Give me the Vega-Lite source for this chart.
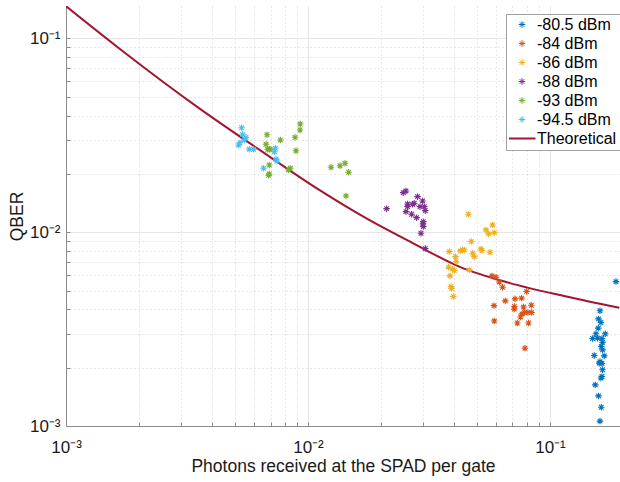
{
  "$schema": "https://vega.github.io/schema/vega-lite/v6.json",
  "autosize": "none",
  "width": 554,
  "height": 420,
  "padding": {"left": 66, "top": 6, "right": 0, "bottom": 56},
  "background": "white",
  "config": {
    "view": {"stroke": null},
    "font": "Liberation Sans"
  },
  "data": {
    "values": [
      {"x": 0.001, "y": 0.1467, "s": "Theoretical"},
      {"x": 0.00166, "y": 0.0888, "s": "Theoretical"},
      {"x": 0.003555, "y": 0.04357, "s": "Theoretical"},
      {"x": 0.00629, "y": 0.02666, "s": "Theoretical"},
      {"x": 0.01113, "y": 0.01652, "s": "Theoretical"},
      {"x": 0.01737, "y": 0.01181, "s": "Theoretical"},
      {"x": 0.02698, "y": 0.00881, "s": "Theoretical"},
      {"x": 0.04218, "y": 0.006648, "s": "Theoretical"},
      {"x": 0.0679, "y": 0.005478, "s": "Theoretical"},
      {"x": 0.1156, "y": 0.004668, "s": "Theoretical"},
      {"x": 0.1934, "y": 0.004071, "s": "Theoretical"},

      {"x": 0.005316, "y": 0.03461, "s": "-94.5 dBm"},
      {"x": 0.005368, "y": 0.0320, "s": "-94.5 dBm"},
      {"x": 0.005543, "y": 0.03088, "s": "-94.5 dBm"},
      {"x": 0.005455, "y": 0.0299, "s": "-94.5 dBm"},
      {"x": 0.005236, "y": 0.02896, "s": "-94.5 dBm"},
      {"x": 0.005167, "y": 0.02818, "s": "-94.5 dBm"},
      {"x": 0.00572, "y": 0.02678, "s": "-94.5 dBm"},
      {"x": 0.00596, "y": 0.02678, "s": "-94.5 dBm"},
      {"x": 0.00692, "y": 0.02678, "s": "-94.5 dBm"},
      {"x": 0.00733, "y": 0.0271, "s": "-94.5 dBm"},
      {"x": 0.00726, "y": 0.02603, "s": "-94.5 dBm"},
      {"x": 0.00738, "y": 0.02378, "s": "-94.5 dBm"},
      {"x": 0.00745, "y": 0.02331, "s": "-94.5 dBm"},
      {"x": 0.00655, "y": 0.02137, "s": "-94.5 dBm"},

      {"x": 0.00929, "y": 0.03615, "s": "-93 dBm"},
      {"x": 0.00927, "y": 0.03368, "s": "-93 dBm"},
      {"x": 0.00884, "y": 0.03088, "s": "-93 dBm"},
      {"x": 0.00769, "y": 0.0299, "s": "-93 dBm"},
      {"x": 0.00677, "y": 0.03185, "s": "-93 dBm"},
      {"x": 0.00671, "y": 0.02842, "s": "-93 dBm"},
      {"x": 0.00681, "y": 0.02678, "s": "-93 dBm"},
      {"x": 0.00697, "y": 0.02678, "s": "-93 dBm"},
      {"x": 0.00892, "y": 0.02634, "s": "-93 dBm"},
      {"x": 0.00692, "y": 0.02223, "s": "-93 dBm"},
      {"x": 0.00692, "y": 0.01998, "s": "-93 dBm"},
      {"x": 0.00687, "y": 0.01967, "s": "-93 dBm"},
      {"x": 0.00845, "y": 0.02137, "s": "-93 dBm"},
      {"x": 0.00831, "y": 0.02095, "s": "-93 dBm"},
      {"x": 0.01245, "y": 0.02163, "s": "-93 dBm"},
      {"x": 0.01356, "y": 0.02204, "s": "-93 dBm"},
      {"x": 0.01422, "y": 0.02268, "s": "-93 dBm"},
      {"x": 0.01472, "y": 0.02039, "s": "-93 dBm"},
      {"x": 0.01436, "y": 0.01539, "s": "-93 dBm"},

      {"x": 0.02113, "y": 0.01323, "s": "-88 dBm"},
      {"x": 0.02476, "y": 0.0160, "s": "-88 dBm"},
      {"x": 0.0254, "y": 0.01633, "s": "-88 dBm"},
      {"x": 0.02837, "y": 0.01526, "s": "-88 dBm"},
      {"x": 0.02976, "y": 0.0145, "s": "-88 dBm"},
      {"x": 0.0258, "y": 0.01399, "s": "-88 dBm"},
      {"x": 0.0258, "y": 0.01355, "s": "-88 dBm"},
      {"x": 0.0254, "y": 0.01277, "s": "-88 dBm"},
      {"x": 0.02705, "y": 0.01394, "s": "-88 dBm"},
      {"x": 0.0275, "y": 0.01411, "s": "-88 dBm"},
      {"x": 0.02903, "y": 0.01355, "s": "-88 dBm"},
      {"x": 0.03024, "y": 0.01355, "s": "-88 dBm"},
      {"x": 0.03052, "y": 0.01292, "s": "-88 dBm"},
      {"x": 0.0268, "y": 0.01238, "s": "-88 dBm"},
      {"x": 0.02811, "y": 0.01189, "s": "-88 dBm"},
      {"x": 0.02995, "y": 0.01134, "s": "-88 dBm"},
      {"x": 0.02986, "y": 0.01104, "s": "-88 dBm"},
      {"x": 0.02995, "y": 0.01069, "s": "-88 dBm"},
      {"x": 0.0293, "y": 0.00988, "s": "-88 dBm"},
      {"x": 0.03052, "y": 0.00823, "s": "-88 dBm"},

      {"x": 0.04597, "y": 0.01238, "s": "-86 dBm"},
      {"x": 0.05793, "y": 0.0109, "s": "-86 dBm"},
      {"x": 0.05439, "y": 0.01028, "s": "-86 dBm"},
      {"x": 0.05576, "y": 0.0098, "s": "-86 dBm"},
      {"x": 0.05887, "y": 0.00995, "s": "-86 dBm"},
      {"x": 0.0473, "y": 0.00895, "s": "-86 dBm"},
      {"x": 0.05651, "y": 0.00788, "s": "-86 dBm"},
      {"x": 0.05187, "y": 0.0082, "s": "-86 dBm"},
      {"x": 0.05236, "y": 0.00804, "s": "-86 dBm"},
      {"x": 0.04789, "y": 0.00779, "s": "-86 dBm"},
      {"x": 0.04867, "y": 0.00748, "s": "-86 dBm"},
      {"x": 0.04425, "y": 0.0081, "s": "-86 dBm"},
      {"x": 0.04353, "y": 0.0081, "s": "-86 dBm"},
      {"x": 0.04259, "y": 0.00801, "s": "-86 dBm"},
      {"x": 0.03836, "y": 0.00794, "s": "-86 dBm"},
      {"x": 0.04068, "y": 0.00748, "s": "-86 dBm"},
      {"x": 0.04095, "y": 0.00706, "s": "-86 dBm"},
      {"x": 0.03811, "y": 0.0066, "s": "-86 dBm"},
      {"x": 0.03959, "y": 0.00645, "s": "-86 dBm"},
      {"x": 0.04023, "y": 0.00634, "s": "-86 dBm"},
      {"x": 0.03862, "y": 0.00595, "s": "-86 dBm"},
      {"x": 0.0464, "y": 0.00639, "s": "-86 dBm"},
      {"x": 0.03899, "y": 0.00524, "s": "-86 dBm"},
      {"x": 0.03921, "y": 0.00512, "s": "-86 dBm"},
      {"x": 0.03985, "y": 0.00466, "s": "-86 dBm"},

      {"x": 0.0576, "y": 0.00595, "s": "-84 dBm"},
      {"x": 0.05984, "y": 0.00586, "s": "-84 dBm"},
      {"x": 0.06175, "y": 0.00553, "s": "-84 dBm"},
      {"x": 0.06371, "y": 0.0052, "s": "-84 dBm"},
      {"x": 0.08005, "y": 0.00494, "s": "-84 dBm"},
      {"x": 0.06537, "y": 0.00442, "s": "-84 dBm"},
      {"x": 0.0587, "y": 0.00418, "s": "-84 dBm"},
      {"x": 0.0717, "y": 0.00453, "s": "-84 dBm"},
      {"x": 0.0763, "y": 0.00457, "s": "-84 dBm"},
      {"x": 0.07122, "y": 0.00414, "s": "-84 dBm"},
      {"x": 0.07122, "y": 0.00401, "s": "-84 dBm"},
      {"x": 0.07777, "y": 0.00411, "s": "-84 dBm"},
      {"x": 0.08373, "y": 0.0042, "s": "-84 dBm"},
      {"x": 0.07659, "y": 0.00379, "s": "-84 dBm"},
      {"x": 0.07852, "y": 0.00385, "s": "-84 dBm"},
      {"x": 0.08111, "y": 0.00385, "s": "-84 dBm"},
      {"x": 0.08395, "y": 0.00385, "s": "-84 dBm"},
      {"x": 0.07557, "y": 0.00365, "s": "-84 dBm"},
      {"x": 0.05887, "y": 0.00348, "s": "-84 dBm"},
      {"x": 0.07329, "y": 0.0034, "s": "-84 dBm"},
      {"x": 0.08155, "y": 0.0034, "s": "-84 dBm"},
      {"x": 0.07883, "y": 0.00252, "s": "-84 dBm"},

      {"x": 0.1874, "y": 0.00556, "s": "-80.5 dBm"},
      {"x": 0.1609, "y": 0.00393, "s": "-80.5 dBm"},
      {"x": 0.1587, "y": 0.00357, "s": "-80.5 dBm"},
      {"x": 0.1624, "y": 0.00342, "s": "-80.5 dBm"},
      {"x": 0.1583, "y": 0.0032, "s": "-80.5 dBm"},
      {"x": 0.1692, "y": 0.00299, "s": "-80.5 dBm"},
      {"x": 0.1549, "y": 0.00299, "s": "-80.5 dBm"},
      {"x": 0.15, "y": 0.00283, "s": "-80.5 dBm"},
      {"x": 0.1573, "y": 0.00284, "s": "-80.5 dBm"},
      {"x": 0.164, "y": 0.00283, "s": "-80.5 dBm"},
      {"x": 0.1649, "y": 0.0027, "s": "-80.5 dBm"},
      {"x": 0.1629, "y": 0.00257, "s": "-80.5 dBm"},
      {"x": 0.1649, "y": 0.00247, "s": "-80.5 dBm"},
      {"x": 0.1524, "y": 0.00231, "s": "-80.5 dBm"},
      {"x": 0.1676, "y": 0.0023, "s": "-80.5 dBm"},
      {"x": 0.1609, "y": 0.00215, "s": "-80.5 dBm"},
      {"x": 0.1598, "y": 0.00211, "s": "-80.5 dBm"},
      {"x": 0.164, "y": 0.0021, "s": "-80.5 dBm"},
      {"x": 0.1649, "y": 0.00195, "s": "-80.5 dBm"},
      {"x": 0.164, "y": 0.0018, "s": "-80.5 dBm"},
      {"x": 0.1624, "y": 0.00177, "s": "-80.5 dBm"},
      {"x": 0.1539, "y": 0.00163, "s": "-80.5 dBm"},
      {"x": 0.1587, "y": 0.00143, "s": "-80.5 dBm"},
      {"x": 0.1629, "y": 0.00125, "s": "-80.5 dBm"},
      {"x": 0.1609, "y": 0.00106, "s": "-80.5 dBm"}
    ]
  },
  "encoding": {
    "x": {
      "field": "x", "type": "quantitative",
      "scale": {"type": "log", "domain": [0.001, 0.1947], "nice": false},
      "axis": {
        "title": "Photons received at the SPAD per gate",
        "values": [0.001,0.002,0.003,0.004,0.005,0.006,0.007,0.008,0.009,0.01,0.02,0.03,0.04,0.05,0.06,0.07,0.08,0.09,0.1],
        "labelExpr": "datum.value == 0.001 ? '10⁻³' : datum.value == 0.01 ? '10⁻²' : datum.value == 0.1 ? '10⁻¹' : ''",
        "grid": true,
        "gridColor": {"condition": {"test": "datum.value == 0.001 || datum.value == 0.01 || datum.value == 0.1", "value": "#e6e6e6"}, "value": "#d0d0d0"},
        "gridDash": {"condition": {"test": "datum.value == 0.001 || datum.value == 0.01 || datum.value == 0.1", "value": []}, "value": [1, 3]},
        "tickSize": -4,
        "tickColor": "#8c8c8c",
        "domainColor": "#8c8c8c",
        "labelPadding": 17,
        "labelFontSize": 17,
        "labelColor": "#1a1a1a",
        "labelFlush": false,
        "labelOverlap": false,
        "titleFontSize": 17.5,
        "titleFontWeight": "normal",
        "titleColor": "#1a1a1a",
        "titlePadding": 2
      }
    },
    "y": {
      "field": "y", "type": "quantitative",
      "scale": {"type": "log", "domain": [0.001, 0.147], "nice": false},
      "axis": {
        "title": "QBER",
        "values": [0.001,0.002,0.003,0.004,0.005,0.006,0.007,0.008,0.009,0.01,0.02,0.03,0.04,0.05,0.06,0.07,0.08,0.09,0.1],
        "labelExpr": "datum.value == 0.001 ? '10⁻³' : datum.value == 0.01 ? '10⁻²' : datum.value == 0.1 ? '10⁻¹' : ''",
        "grid": true,
        "gridColor": {"condition": {"test": "datum.value == 0.001 || datum.value == 0.01 || datum.value == 0.1", "value": "#e6e6e6"}, "value": "#d0d0d0"},
        "gridDash": {"condition": {"test": "datum.value == 0.001 || datum.value == 0.01 || datum.value == 0.1", "value": []}, "value": [1, 3]},
        "tickSize": -4,
        "tickColor": "#8c8c8c",
        "domainColor": "#8c8c8c",
        "labelPadding": 10,
        "labelFontSize": 17,
        "labelColor": "#1a1a1a",
        "labelFlush": false,
        "labelOverlap": false,
        "titleFontSize": 17.5,
        "titleFontWeight": "normal",
        "titleColor": "#1a1a1a",
        "titlePadding": 3
      }
    },
    "color": {
      "field": "s", "type": "nominal",
      "scale": {
        "domain": ["-80.5 dBm", "-84 dBm", "-86 dBm", "-88 dBm", "-93 dBm", "-94.5 dBm", "Theoretical"],
        "range": ["#0072BD", "#D95319", "#EDB120", "#7E2F8E", "#77AC30", "#4DBEEE", "#A2142F"]
      },
      "legend": {
        "title": null,
        "orient": "none",
        "legendX": 440,
        "legendY": 8,
        "fillColor": "white",
        "strokeColor": "#a0a0a0",
        "padding": 3,
        "symbolSize": 729,
        "symbolOffset": 5,
        "clipHeight": 15,
        "rowPadding": 2,
        "labelFontSize": 16,
        "labelColor": "#000000",
        "labelOffset": 7,
        "encode": {
          "symbols": {
            "update": {
              "shape": {"signal": "datum.label === 'Theoretical' ? 'stroke' : 'M-1,0L1,0M0,-1L0,1M-0.71,-0.71L0.71,0.71M-0.71,0.71L0.71,-0.71'"},
              "size": {"signal": "datum.label === 'Theoretical' ? 729 : 42"},
              "strokeWidth": {"signal": "datum.label === 'Theoretical' ? 2 : 1"},
              "fill": {"value": "transparent"},
              "opacity": {"value": 1}
            }
          }
        }
      }
    }
  },
  "layer": [
    {
      "transform": [{"filter": "datum.s == 'Theoretical'"}],
      "mark": {"type": "line", "strokeWidth": 2, "interpolate": "monotone", "clip": true}
    },
    {
      "transform": [{"filter": "datum.s != 'Theoretical'"}],
      "mark": {"type": "point", "shape": "M-1,0L1,0M0,-1L0,1M-0.71,-0.71L0.71,0.71M-0.71,0.71L0.71,-0.71", "filled": false, "size": 42, "strokeWidth": 1.1, "opacity": 1}
    }
  ]
}
